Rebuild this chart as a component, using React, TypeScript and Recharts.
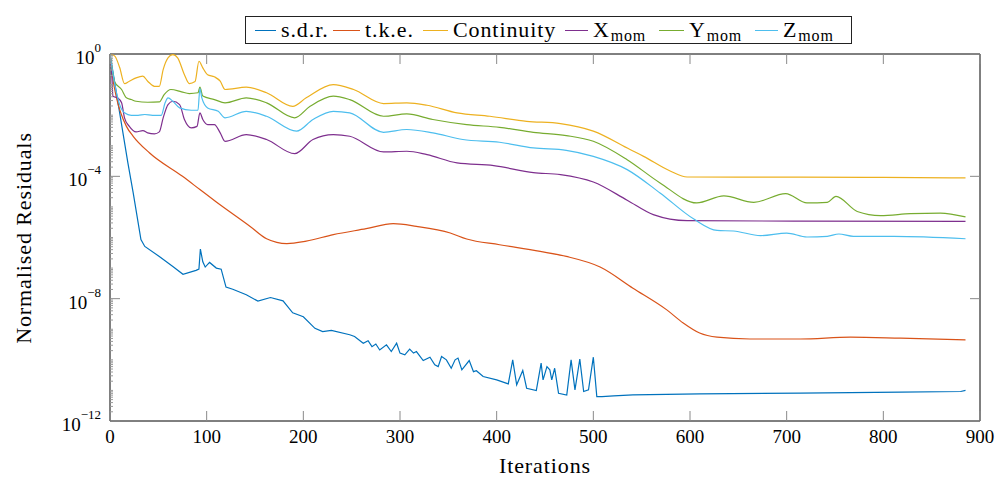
import React from "react";
import { LineChart, Line, XAxis, YAxis, ReferenceArea } from "recharts";

// iterations / normalised residual values
const sdrIt = [0, 18.5, 24, 32, 36, 51, 65, 75.5, 89, 92, 93.5, 96, 98.5, 103, 110, 115, 120, 127, 141, 153, 166, 179, 189, 200, 212, 220, 229, 248, 253, 262, 267, 271, 275, 279, 286, 291, 296.5, 300, 305, 310, 314, 317, 324, 331, 336, 339.5, 343, 348, 353, 357, 360, 364, 371.6, 376, 379, 386, 400, 412, 416.6, 420.7, 427, 431, 441, 446, 448, 452, 455, 457, 460, 464, 472.5, 477, 481, 486, 490, 495, 500, 503.6, 509, 521, 541, 610, 714, 818, 880, 885];
const sdrVal = [1, 2.75e-4, 2.86e-5, 8.5e-7, 5.1e-7, 2.4e-7, 1.13e-7, 6.3e-8, 8.4e-8, 9.3e-8, 4.2e-7, 1.6e-7, 1.08e-7, 1.53e-7, 1.0e-7, 9.2e-8, 2.4e-8, 2.03e-8, 1.34e-8, 8.3e-9, 1.09e-8, 8.5e-9, 3.45e-9, 2.56e-9, 1.07e-9, 8.4e-10, 9.2e-10, 6.6e-10, 5.8e-10, 3.5e-10, 4.2e-10, 2.7e-10, 3.3e-10, 2.1e-10, 3.1e-10, 1.87e-10, 3.5e-10, 1.66e-10, 1.46e-10, 2.24e-10, 1.66e-10, 1.87e-10, 9.5e-11, 1.22e-10, 6.9e-11, 6.0e-11, 1.28e-10, 1.0e-10, 5.3e-11, 1.0e-10, 1.14e-10, 4.7e-11, 9.5e-11, 4.1e-11, 4.4e-11, 2.84e-11, 2.2e-11, 1.64e-11, 1.0e-10, 1.52e-11, 4.5e-11, 1.18e-11, 9.9e-12, 7.8e-11, 2.2e-11, 6.0e-11, 4.7e-11, 2.2e-11, 5.3e-11, 8.1e-12, 7.1e-12, 1.0e-10, 1.04e-11, 1.05e-10, 9.2e-12, 1.04e-11, 1.22e-10, 6.3e-12, 6.3e-12, 6.6e-12, 7.1e-12, 7.7e-12, 8.1e-12, 8.8e-12, 9.2e-12, 1.0e-11];

const tkeIt = [0, 3, 6.5, 17, 24, 41, 75, 93, 110, 145, 162, 183, 203, 231, 265, 293, 317, 352, 369, 403, 445, 472, 507, 541, 576, 593, 610, 628, 662, 714, 766, 818, 885];
const tkeVal = [1, 0.15, 0.04, 0.0043, 0.00204, 5.8e-4, 1e-4, 3.7e-5, 1.45e-5, 2.3e-6, 9.1e-7, 6.3e-7, 7.6e-7, 1.24e-6, 1.94e-6, 2.83e-6, 2.31e-6, 1.4e-6, 8.9e-7, 5.8e-7, 3.5e-7, 2.4e-7, 1.08e-7, 2.2e-8, 4.3e-9, 1.6e-9, 7.5e-10, 5.5e-10, 4.8e-10, 4.8e-10, 5.5e-10, 5.1e-10, 4.5e-10];

const contIt = [0, 5, 10, 15, 20, 27, 34, 39, 46, 51, 55, 60, 65, 70, 77, 82, 88, 92, 96, 101, 108, 114, 119, 141, 162, 189, 203, 231, 252, 283, 307, 328, 359, 393, 431, 466, 500, 538, 552, 580, 597, 650, 714, 800, 885];
const contVal = [1, 0.85, 0.36, 0.108, 0.129, 0.166, 0.188, 0.129, 0.088, 0.088, 0.31, 0.75, 0.96, 0.75, 0.21, 0.108, 0.126, 0.58, 0.35, 0.21, 0.18, 0.129, 0.069, 0.082, 0.054, 0.0195, 0.037, 0.1, 0.069, 0.024, 0.0253, 0.0211, 0.0119, 0.0092, 0.0063, 0.0053, 0.003, 7.5e-4, 4.5e-4, 1.46e-4, 9.5e-5, 9.4e-5, 9.4e-5, 9.2e-5, 8.9e-5];

const xmomIt = [0, 2, 3, 8, 12, 15, 20, 27, 34, 39, 46, 51, 55, 60, 65, 72, 77, 84, 90, 93, 96, 101, 108, 114, 119, 141, 162, 191, 210, 231, 248, 283, 307, 328, 359, 397, 438, 466, 500, 535, 562, 597, 714, 885];
const xmomVal = [1, 0.166, 0.0416, 0.0368, 0.0253, 0.0082, 0.0043, 0.00284, 0.00313, 0.00264, 0.00244, 0.00284, 0.0082, 0.0222, 0.0285, 0.0222, 0.0072, 0.00384, 0.0043, 0.0119, 0.0072, 0.0049, 0.0049, 0.00264, 0.0014, 0.00232, 0.0016, 5.5e-4, 0.0016, 0.00232, 0.00204, 6.3e-4, 6.6e-4, 5.1e-4, 2.75e-4, 2.24e-4, 1.32e-4, 1.14e-4, 6.5e-5, 1.66e-5, 5.6e-6, 3.55e-6, 3.42e-6, 3.37e-6];

const ymomIt = [0, 5, 12, 17, 22, 27, 39, 51, 56, 63, 74, 82, 91, 93, 96, 108, 119, 141, 162, 191, 207, 231, 248, 283, 307, 334, 369, 403, 438, 472, 500, 535, 569, 607, 635, 666, 699, 721, 742, 751, 773, 797, 828, 859, 885];
const ymomVal = [1, 0.12, 0.069, 0.0368, 0.0324, 0.0285, 0.0264, 0.0272, 0.047, 0.069, 0.058, 0.051, 0.054, 0.082, 0.042, 0.0324, 0.0253, 0.0368, 0.0253, 0.0082, 0.0195, 0.042, 0.0324, 0.0092, 0.011, 0.0072, 0.0049, 0.004, 0.00275, 0.00215, 0.0014, 3.5e-4, 6.1e-5, 1.35e-5, 2.3e-5, 1.41e-5, 2.7e-5, 1.35e-5, 1.41e-5, 2.2e-5, 7.1e-6, 5.2e-6, 6.0e-6, 6.3e-6, 4.7e-6];

const zmomIt = [0, 5, 10, 15, 22, 29, 36, 44, 53, 57, 60, 65, 72, 84, 91, 93, 95, 101, 112, 119, 141, 162, 193, 210, 231, 248, 283, 307, 334, 365, 403, 438, 472, 500, 535, 569, 604, 628, 645, 673, 700, 721, 742, 754, 769, 811, 885];
const zmomVal = [1, 0.1, 0.0222, 0.0119, 0.0099, 0.0099, 0.0105, 0.0099, 0.0099, 0.0253, 0.0368, 0.0285, 0.0173, 0.0145, 0.0145, 0.074, 0.0368, 0.0173, 0.0134, 0.0082, 0.0134, 0.0092, 0.003, 0.0072, 0.0134, 0.0119, 0.00275, 0.0034, 0.00264, 0.0016, 0.0013, 8.5e-4, 7.1e-4, 4.5e-4, 1.66e-4, 2.86e-5, 4.0e-6, 1.7e-6, 1.63e-6, 1.15e-6, 1.4e-6, 1.04e-6, 1.09e-6, 1.3e-6, 1.09e-6, 1.09e-6, 9.1e-7];

const xTicks = [0, 100, 200, 300, 400, 500, 600, 700, 800, 900];
const yDecades = [-12, -11, -10, -9, -8, -7, -6, -5, -4, -3, -2, -1, 0];

const FONT = "Liberation Serif";
const TOP = 54;
const RIGHT = 980;

const zip = (its: number[], vals: number[]) => its.map((it, i) => ({ it, v: vals[i] }));

const series = [
  { key: "sdr", name: "s.d.r.", sub: "", color: "#0072BD", data: zip(sdrIt, sdrVal), type: "linear" },
  { key: "tke", name: "t.k.e.", sub: "", color: "#D95319", data: zip(tkeIt, tkeVal), type: "monotone" },
  { key: "cont", name: "Continuity", sub: "", color: "#EDB120", data: zip(contIt, contVal), type: "monotone" },
  { key: "xmom", name: "X", sub: "mom", color: "#7E2F8E", data: zip(xmomIt, xmomVal), type: "monotone" },
  { key: "ymom", name: "Y", sub: "mom", color: "#77AC30", data: zip(ymomIt, ymomVal), type: "monotone" },
  { key: "zmom", name: "Z", sub: "mom", color: "#4DBEEE", data: zip(zmomIt, zmomVal), type: "monotone" },
];

// legend entry offsets inside the box (sample line start, text start)
const legendLineX = [9, 87, 177, 319, 413, 509];
const legendTextX = [35, 119, 207, 347, 443, 537];

// major decades plus minor 2..9 ticks
const yTicks: number[] = [];
yDecades.forEach((d) => {
  yTicks.push(Math.pow(10, d));
  if (d < 0) for (let k = 2; k <= 9; k++) yTicks.push(Number((k * Math.pow(10, d)).toPrecision(3)));
});

const XTick = (props: any) => {
  const { x, y, payload } = props;
  return (
    <g>
      <line x1={x} x2={x} y1={y} y2={y - 10} stroke="#8a8a8a" strokeWidth={1} />
      <line x1={x} x2={x} y1={TOP} y2={TOP + 10} stroke="#8a8a8a" strokeWidth={1} />
      <text x={x} y={y + 22} textAnchor="middle" fontFamily={FONT} fontSize={19} fill="#000">
        {payload.value}
      </text>
    </g>
  );
};

const YTick = (props: any) => {
  const { x, y, payload } = props;
  const lg = Math.log10(payload.value);
  const e = Math.round(lg);
  const major = Math.abs(lg - e) < 1e-6 && e % 4 === 0;
  if (!major) {
    return <line x1={x} x2={x + 3} y1={y} y2={y} stroke="#9a9a9a" strokeWidth={1} />;
  }
  return (
    <g>
      <line x1={x} x2={x + 10} y1={y} y2={y} stroke="#8a8a8a" strokeWidth={1} />
      <line x1={RIGHT - 10} x2={RIGHT} y1={y} y2={y} stroke="#8a8a8a" strokeWidth={1} />
      <text x={x - 9} y={y + 10} textAnchor="end" fontFamily={FONT} fill="#000">
        <tspan fontSize={19}>10</tspan>
        <tspan fontSize={13} dy={-12}>{e === 0 ? "0" : "\u2212" + Math.abs(e)}</tspan>
      </text>
    </g>
  );
};

export default function App() {
  return (
    <div style={{ position: "absolute", left: 0, top: 0, width: 1002, height: 481, background: "#fff", fontFamily: FONT }}>
      <LineChart width={1002} height={481} margin={{ top: TOP, right: 22, bottom: 20, left: 10 }}>
        <XAxis
          dataKey="it"
          type="number"
          domain={[0, 900]}
          ticks={xTicks}
          interval={0}
          allowDataOverflow
          height={40}
          tickSize={0}
          tickMargin={0}
          tickLine={false}
          axisLine={false}
          tick={<XTick />}
        />
        <YAxis
          type="number"
          scale="log"
          domain={[1e-12, 1]}
          ticks={yTicks}
          interval={0}
          allowDataOverflow
          width={100}
          tickSize={0}
          tickMargin={0}
          tickLine={false}
          axisLine={false}
          tick={<YTick />}
        />
        {series.map((s) => (
          <Line
            key={s.key}
            data={s.data}
            dataKey="v"
            type={s.type as any}
            stroke={s.color}
            strokeWidth={1.2}
            dot={false}
            isAnimationActive={false}
          />
        ))}
        <ReferenceArea x1={0} x2={900} y1={1e-12} y2={1} fill="none" stroke="#000" strokeWidth={1} />
      </LineChart>

      <svg width={1002} height={481} style={{ position: "absolute", left: 0, top: 0, pointerEvents: "none" }}>
        <text x={545} y={473} textAnchor="middle" fontFamily={FONT} fontSize={22} letterSpacing={0.9} fill="#000">
          Iterations
        </text>
        <text
          x={0}
          y={0}
          transform="translate(31,238) rotate(-90)"
          textAnchor="middle"
          fontFamily={FONT}
          fontSize={22}
          letterSpacing={0.9}
          fill="#000"
        >
          Normalised Residuals
        </text>
      </svg>

      <div
        style={{
          position: "absolute",
          left: 245,
          top: 16,
          width: 607,
          height: 28,
          boxSizing: "border-box",
          border: "1px solid #222",
          background: "#fff",
          fontFamily: FONT,
          fontSize: 22,
          letterSpacing: 0.9,
          color: "#000",
          whiteSpace: "nowrap",
        }}
      >
        {series.map((s, i) => (
          <React.Fragment key={s.key}>
            <span
              style={{
                position: "absolute",
                left: legendLineX[i],
                top: 13,
                width: legendTextX[i] - legendLineX[i] - 5,
                height: 1.3,
                background: s.color,
              }}
            />
            <span style={{ position: "absolute", left: legendTextX[i], top: 0, lineHeight: "26px" }}>
              {s.name}
              {s.sub && (
                <span style={{ fontSize: 16, position: "relative", top: 4, marginLeft: 1, letterSpacing: 0.8 }}>{s.sub}</span>
              )}
            </span>
          </React.Fragment>
        ))}
      </div>
    </div>
  );
}
